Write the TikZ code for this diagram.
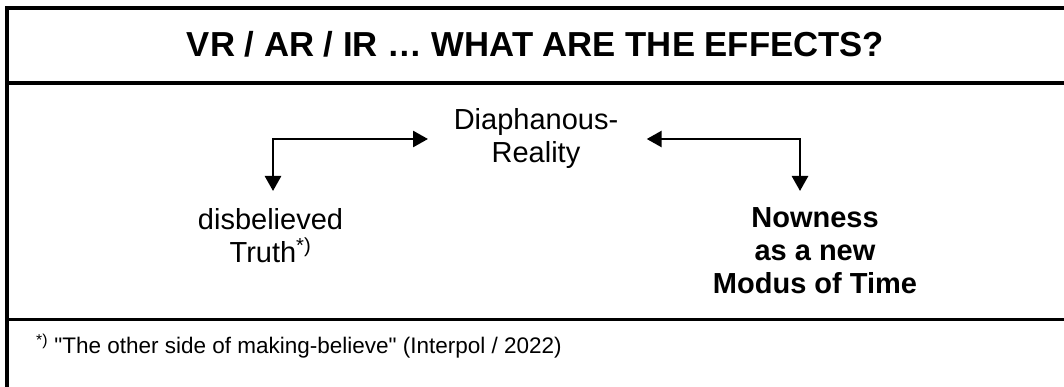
\documentclass[tikz,border=0pt]{standalone}
\usepackage{fontspec}
\setmainfont{Liberation Sans}
\newfontfamily\plainsans{Liberation Sans}
\usetikzlibrary{arrows.meta}
\begin{document}
\begin{tikzpicture}[x=1pt,y=-1pt,
  frame/.style={line width=4pt},
  thinframe/.style={line width=3pt},
  titletext/.style={font=\fontsize{34.7}{40}\selectfont\bfseries, inner sep=0pt},
  body/.style={font=\fontsize{29}{33}\selectfont, align=center, inner sep=0pt},
  boldbody/.style={font=\fontsize{29}{33}\selectfont\bfseries, align=center, inner sep=0pt},
  foot/.style={font=\plainsans\fontsize{22.5}{26}\selectfont, inner sep=0pt},
  tip/.tip={Triangle[length=15pt,width=16pt]},
  arr/.style={line width=2.7pt, tip-tip}
]
\useasboundingbox (0,0) rectangle (1064,387);
\clip (0,0) rectangle (1064,387);
% frame
\draw[frame] (7,400) -- (7,8) -- (1080,8);
\draw[frame] (7,83.5) -- (1080,83.5);
\draw[thinframe] (7,319.5) -- (1080,319.5);
% texts
\node[titletext, anchor=base] (title) at (535.5,57) {VR / AR / IR … WHAT ARE THE EFFECTS?};
\node[body, anchor=base] (diaph) at (536,163) {Diaphanous-\\Reality};
\node[body, anchor=base] (disb) at (270.5,262) {disbelieved\\Truth\textsuperscript{*)}};
\node[boldbody, anchor=base] (now) at (815,293) {Nowness\\as a new\\Modus of Time};
\node[foot, anchor=base west] (fn) at (36,353) {\textsuperscript{*)} "The other side of making-believe" (Interpol / 2022)};
% connectors
\coordinate (disbtip) at (273,191);
\coordinate (diaphL) at (428,139);
\coordinate (diaphR) at (646.7,139);
\coordinate (nowtip) at (800,191);
\draw[arr] (disbtip) |- (diaphL);
\draw[arr] (diaphR) -| (nowtip);
\end{tikzpicture}
\end{document}
